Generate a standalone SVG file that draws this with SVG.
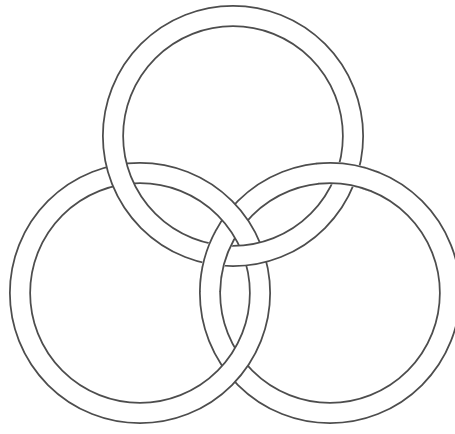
<svg xmlns="http://www.w3.org/2000/svg" xmlns:xlink="http://www.w3.org/1999/xlink" width="455" height="434" viewBox="0 0 455 434">
<style>
.edge{fill:none;stroke:#4d4d4d;stroke-width:22}
.band{fill:none;stroke:#ffffff;stroke-width:18.5}
.cover{fill:none;stroke:#ffffff;stroke-width:22.5}
.line{fill:none;stroke:#4d4d4d;stroke-width:1.75;stroke-linecap:round}
</style>
<defs>
<g id="ring">
<circle class="edge" cx="0" cy="0" r="120"/>
<circle class="band" cx="0" cy="0" r="120"/>
</g>
<g id="over-arc">
<path class="cover" d="M120,0 A120,120 0 0 1 105.95,56.34"/>
<path class="line" d="M109.875,0 A109.875,109.875 0 0 1 97.014,51.583"/>
<path class="line" d="M130.125,0 A130.125,130.125 0 0 1 114.894,61.090"/>
</g>
</defs>
<rect width="455" height="434" fill="#ffffff"/>
<g id="ring-bottom-right"><use xlink:href="#ring" x="330" y="293"/></g>
<g id="ring-bottom-left"><use xlink:href="#ring" x="140" y="293"/></g>
<g id="ring-top"><use xlink:href="#ring" x="233" y="136"/></g>
<g id="ring-bottom-right-crossings">
<use xlink:href="#over-arc" transform="translate(330,293) rotate(-179)"/>
<use xlink:href="#over-arc" transform="translate(330,293) rotate(-96)"/>
</g>
</svg>
